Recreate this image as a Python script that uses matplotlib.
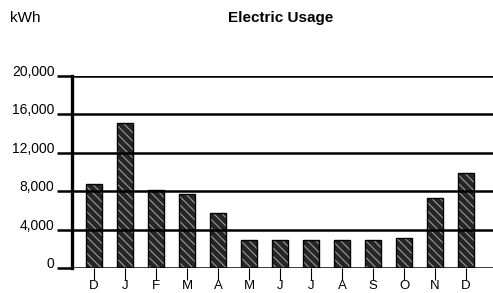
import matplotlib
matplotlib.use("Agg")
import matplotlib.pyplot as plt

months = ["D", "J", "F", "M", "A", "M", "J", "J", "A", "S", "O", "N", "D"]
usage = [8800, 15100, 8100, 7700, 5700, 2900, 2900, 2900, 2900, 2900, 3100, 7300, 9900]
yticks = [0, 4000, 8000, 12000, 16000, 20000]
ytick_labels = ["0", "4,000", "8,000", "12,000", "16,000", "20,000"]

plt.rcParams['font.family'] = ['Liberation Sans', 'DejaVu Sans']
plt.rcParams['hatch.linewidth'] = 0.8

fig = plt.figure(figsize=(4.93, 2.93), dpi=100)
ax = fig.add_axes([0.146, 0.0853, 0.854, 0.6553])

x = list(range(len(months)))
# fill with light hatch, then black outline on top
ax.bar(x, usage, width=0.52, color='#262626', edgecolor='#9a9a9a',
       hatch='\\\\\\\\', linewidth=0, zorder=1)
ax.bar(x, usage, width=0.52, color='none', edgecolor='black',
       linewidth=1.0, zorder=1.2)

ax.set_xlim(-0.71, 12.87)
ax.set_ylim(0, 20000)
ax.set_axisbelow(False)

ax.set_yticks(yticks)
ax.set_yticklabels(ytick_labels, fontsize=10)
for t in ax.get_yticklabels():
    t.set_va('baseline')
ax.tick_params(axis='y', length=11, width=1.8, pad=1.5, color='black')
ax.yaxis.grid(True, color='black', linewidth=1.8, zorder=2.5)

ax.set_xticks(x)
ax.set_xticklabels(months, fontsize=9.5)
ax.tick_params(axis='x', length=8.5, width=0.8, pad=0, color='black')

for side in ['top', 'right', 'bottom']:
    ax.spines[side].set_visible(False)
ax.spines['left'].set_linewidth(2.4)

fig.text(0.02, 0.94, "kWh", fontsize=11, va='center', ha='left')
fig.text(0.57, 0.94, "Electric Usage", fontsize=11, fontweight='bold',
         va='center', ha='center')

fig.savefig("out.png", dpi=100)
